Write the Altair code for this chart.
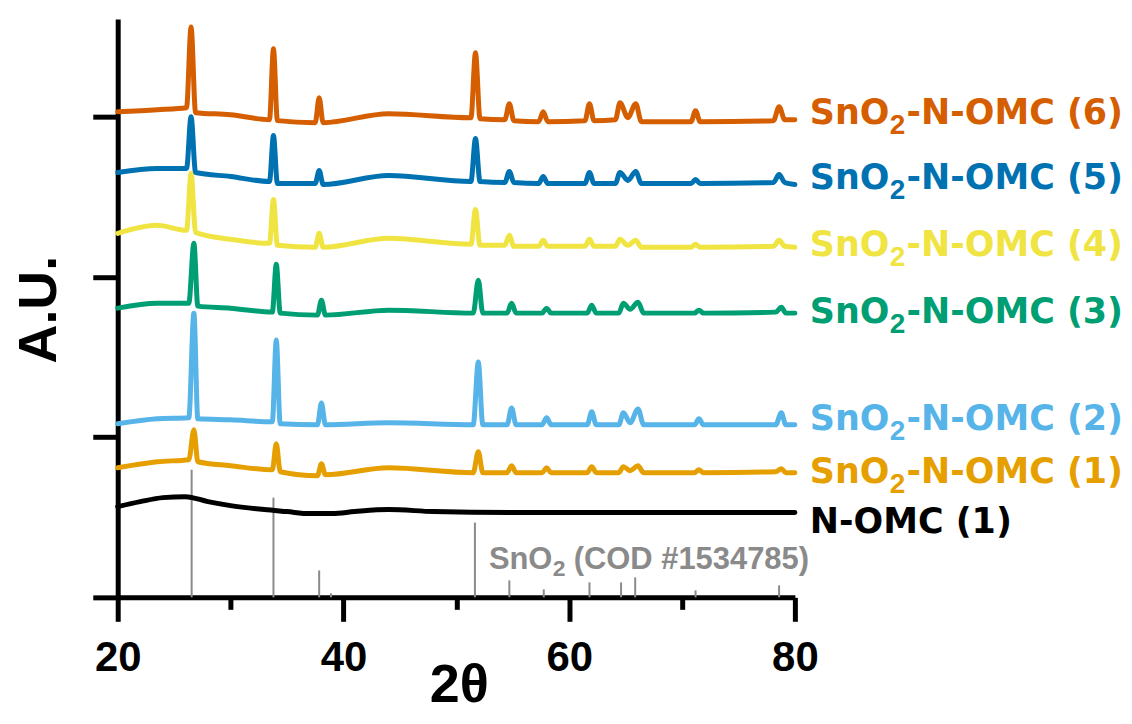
import altair as alt
import pandas as pd

# ---------------- data ----------------
series_names = ["N-OMC (1)", "SnO2-N-OMC (1)", "SnO2-N-OMC (2)", "SnO2-N-OMC (3)",
                "SnO2-N-OMC (4)", "SnO2-N-OMC (5)", "SnO2-N-OMC (6)"]
series_colors = ["#000000", "#E69F00", "#56B4E9", "#009E73", "#F0E442", "#0072B2", "#D55E00"]

# N-OMC (1)
tth_n = [20, 22, 24, 26, 28, 30, 33, 35, 37, 39, 41, 44, 48, 55, 65, 80]
int_n = [91, 96, 100, 101, 96, 92, 88, 86, 84, 84, 86, 88, 86, 85, 85, 85]

# 2-theta grid of SnO2-N-OMC (1)-(3) (peaks slightly shifted)
tth_a = [20, 23.5, 26.3, 26.75, 27.1, 30, 33.7, 34.05, 34.4, 37.7, 38.05, 38.4, 44,
         51.5, 51.95, 52.35, 54.5, 54.9, 55.3, 57.6, 58.0, 58.4, 61.6, 62.0, 62.4,
         64.4, 64.8, 65.4, 66.1, 66.6, 71.1, 71.5, 71.9, 78.3, 78.8, 79.2, 80]
int_1 = [130, 136, 138, 168, 136, 132, 128, 154, 126, 122, 134, 123, 130,
         125, 146, 125, 125, 132, 125, 125, 130, 125, 125, 131, 125,
         125, 131, 127, 132, 125, 125, 128, 125, 126, 129, 125, 125]
int_2 = [174, 179, 180, 285, 179, 178, 176, 258, 174, 173, 195, 173, 175,
         173, 236, 173, 173, 190, 173, 173, 180, 173, 173, 186, 173,
         173, 185, 175, 189, 173, 173, 179, 173, 173, 185, 173, 173]
int_3 = [290, 295, 295, 355, 292, 290, 286, 334, 285, 283, 298, 283, 288,
         285, 318, 285, 285, 295, 285, 285, 290, 285, 285, 293, 285,
         285, 295, 289, 296, 285, 285, 288, 285, 286, 291, 285, 285]

# 2-theta grid of SnO2-N-OMC (4)-(6)
tth_b = [20, 23.5, 26.1, 26.5, 26.9, 30, 33.45, 33.8, 34.15, 37.5, 37.85, 38.2, 44,
         51.3, 51.7, 52.1, 54.3, 54.7, 55.1, 57.3, 57.7, 58.1, 61.4, 61.8, 62.2,
         64.1, 64.5, 65.2, 65.9, 66.4, 70.8, 71.2, 71.6, 78.1, 78.6, 79.1, 80]
int_4 = [365, 373, 368, 425, 366, 359, 355, 399, 353, 351, 365, 351, 360,
         354, 389, 353, 353, 363, 352, 352, 358, 352, 352, 359, 352,
         352, 359, 353, 358, 351, 351, 354, 351, 352, 358, 352, 351]
int_5 = [426, 430, 430, 482, 426, 422, 417, 463, 415, 415, 428, 414, 423,
         417, 460, 417, 416, 427, 416, 415, 422, 415, 415, 426, 415,
         415, 426, 418, 427, 415, 415, 419, 415, 416, 424, 416, 414]
int_6 = [487, 489, 491, 572, 486, 484, 479, 550, 478, 476, 501, 476, 485,
         481, 546, 480, 479, 495, 478, 477, 487, 477, 478, 495, 478,
         479, 496, 481, 495, 477, 477, 488, 477, 478, 492, 479, 479]

# SnO2 reference pattern (COD #1534785)
stick_tth = [26.55, 33.8, 37.85, 38.9, 51.65, 54.7, 57.75, 61.8, 64.6, 65.85, 71.2, 78.6]
stick_int = [128, 100, 27, 4, 75, 17, 8, 15, 15, 20, 7, 12]

# axis
x_ticks = [20, 30, 40, 50, 60, 70, 80]
y_ticks = [0, 161, 321, 482]

# right-hand labels (baseline intensity of each label)
label_first = ["N-OMC (1)", "SnO", "SnO", "SnO", "SnO", "SnO", "SnO"]
label_rest = ["", "-N-OMC (1)", "-N-OMC (2)", "-N-OMC (3)", "-N-OMC (4)", "-N-OMC (5)", "-N-OMC (6)"]
label_int = [65, 115, 168, 275, 342, 409, 475]
cod_anchor_tth = 51.65
cod_anchor_int = 28

# ---------------- tables ----------------
rows = []
for name, xs, ys in [(series_names[0], tth_n, int_n),
                     (series_names[1], tth_a, int_1),
                     (series_names[2], tth_a, int_2),
                     (series_names[3], tth_a, int_3),
                     (series_names[4], tth_b, int_4),
                     (series_names[5], tth_b, int_5),
                     (series_names[6], tth_b, int_6)]:
    for i, (a, b) in enumerate(zip(xs, ys)):
        rows.append({"series": name, "tth": a, "inten": b, "idx": i})
df = pd.DataFrame(rows)

sticks = pd.DataFrame({"tth": stick_tth, "inten": stick_int, "zero": [0] * len(stick_tth)})
labels = pd.DataFrame({"series": series_names, "t1": label_first, "t3": label_rest,
                       "inten": label_int, "tth": [80] * len(series_names)})
sub_labels = labels[labels["t3"] != ""]
cod = pd.DataFrame({"tth": [cod_anchor_tth], "inten": [cod_anchor_int]})

FONT = "Liberation Sans"
LFONT = "DejaVu Sans"

xscale = alt.Scale(domain=[20, 80], nice=False)
yscale = alt.Scale(domain=[0, 580], nice=False)
cscale = alt.Scale(domain=series_names, range=series_colors)

xaxis = alt.Axis(values=x_ticks, grid=False,
                 labelExpr="datum.value % 20 === 0 ? datum.label : ''",
                 tickSize={"condition": {"test": "datum.value % 20 !== 0", "value": 12}, "value": 24},
                 tickWidth=5, tickColor="black", domainWidth=5, domainColor="black",
                 labelFont=FONT, labelFontWeight="bold", labelFontSize=42, labelColor="black",
                 labelPadding=16, labelFlush=False,
                 title="2θ", titleFont=FONT, titleFontWeight="bold", titleFontSize=54,
                 titleColor="black", titleY=104, titleX=342, titleBaseline="alphabetic")
yaxis = alt.Axis(values=y_ticks, grid=False, labels=False,
                 tickSize=25, tickWidth=5, tickColor="black", domainWidth=5, domainColor="black",
                 title="A.U.", titleFont=FONT, titleFontWeight="bold", titleFontSize=54,
                 titleColor="black", titleX=-62, titleY=291, titleBaseline="alphabetic")

stick_layer = alt.Chart(sticks).mark_rule(color="#8a8a8a", strokeWidth=2).encode(
    x=alt.X("tth:Q", scale=xscale, axis=xaxis),
    y=alt.Y("zero:Q", scale=yscale, axis=yaxis),
    y2="inten:Q",
)

lines = alt.Chart(df).mark_line(strokeWidth=5, strokeJoin="round", strokeCap="round",
                                interpolate="monotone").encode(
    x=alt.X("tth:Q", scale=xscale),
    y=alt.Y("inten:Q", scale=yscale),
    color=alt.Color("series:N", scale=cscale, legend=None),
    order="idx:Q",
)

txt_a = alt.Chart(labels).mark_text(align="left", baseline="alphabetic", dx=15,
                                    font=LFONT, fontWeight="bold", fontSize=35).encode(
    x=alt.X("tth:Q", scale=xscale), y=alt.Y("inten:Q", scale=yscale),
    text="t1:N", color=alt.Color("series:N", scale=cscale, legend=None))
txt_b = alt.Chart(sub_labels).mark_text(align="left", baseline="alphabetic", dx=95, dy=10,
                                        font=FONT, fontWeight="bold", fontSize=28).encode(
    x=alt.X("tth:Q", scale=xscale), y=alt.Y("inten:Q", scale=yscale),
    text=alt.value("2"), color=alt.Color("series:N", scale=cscale, legend=None))
txt_c = alt.Chart(sub_labels).mark_text(align="left", baseline="alphabetic", dx=112,
                                        font=LFONT, fontWeight="bold", fontSize=35).encode(
    x=alt.X("tth:Q", scale=xscale), y=alt.Y("inten:Q", scale=yscale),
    text="t3:N", color=alt.Color("series:N", scale=cscale, legend=None))

cod_a = alt.Chart(cod).mark_text(align="left", baseline="alphabetic", dx=14, color="#8a8a8a",
                                 font=FONT, fontWeight="bold", fontSize=31).encode(
    x=alt.X("tth:Q", scale=xscale), y=alt.Y("inten:Q", scale=yscale), text=alt.value("SnO"))
cod_b = alt.Chart(cod).mark_text(align="left", baseline="alphabetic", dx=78, dy=7, color="#8a8a8a",
                                 font=FONT, fontWeight="bold", fontSize=23).encode(
    x=alt.X("tth:Q", scale=xscale), y=alt.Y("inten:Q", scale=yscale), text=alt.value("2"))
cod_c = alt.Chart(cod).mark_text(align="left", baseline="alphabetic", dx=99, color="#8a8a8a",
                                 font=FONT, fontWeight="bold", fontSize=31).encode(
    x=alt.X("tth:Q", scale=xscale), y=alt.Y("inten:Q", scale=yscale),
    text=alt.value("(COD #1534785)"))

chart = alt.layer(stick_layer, lines, txt_a, txt_b, txt_c, cod_a, cod_b, cod_c).properties(
    width=679, height=580,
    padding={"left": 110, "top": 10, "right": 330, "bottom": 114},
    autosize=alt.AutoSizeParams(type="none"),
    background="white",
).configure_view(stroke=None)

chart.save("out.html", embed_options={"renderer": "svg", "actions": False})
